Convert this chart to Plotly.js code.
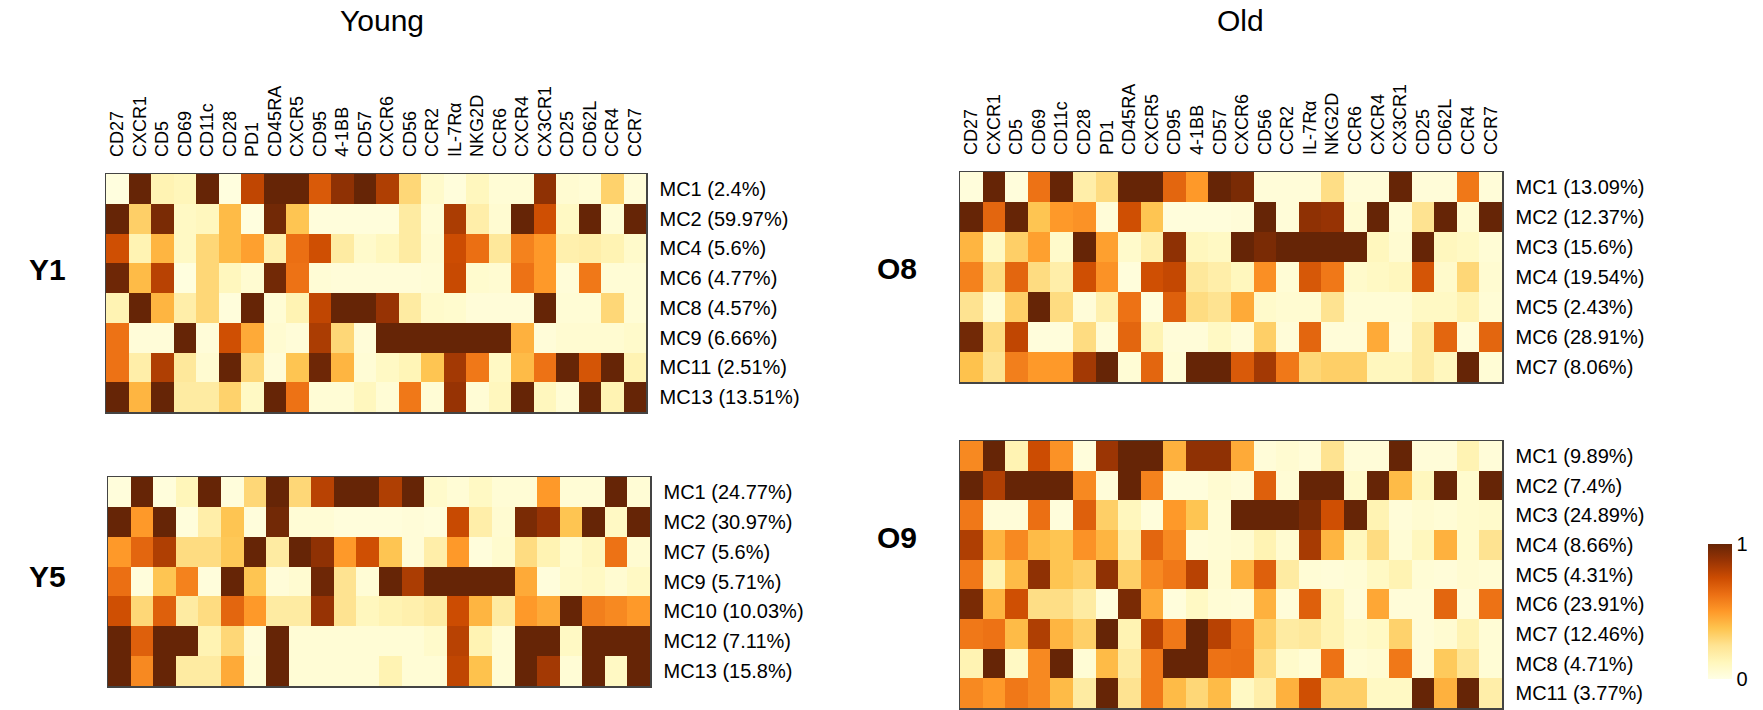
<!DOCTYPE html>
<html>
<head>
<meta charset="utf-8">
<script src="https://cdn.plot.ly/plotly-3.0.1.min.js"></script>
<style>html,body{margin:0;padding:0;background:#fff;}#chart{width:1763px;height:710px;}</style>
</head>
<body>
<div id="chart"></div>
<script>
// Markers (columns), shared by all four heatmaps
const markers = ['CD27','CXCR1','CD5','CD69','CD11c','CD28','PD1','CD45RA','CXCR5','CD95','4-1BB','CD57','CXCR6','CD56','CCR2','IL-7Rα','NKG2D','CCR6','CXCR4','CX3CR1','CD25','CD62L','CCR4','CCR7'];

// Y1
const y1Rows = ['MC1 (2.4%)','MC2 (59.97%)','MC4 (5.6%)','MC6 (4.77%)','MC8 (4.57%)','MC9 (6.66%)','MC11 (2.51%)','MC13 (13.51%)'];
const y1Values = [
  [0.02,1,0.15,0.13,1,0.02,0.78,1,1,0.7,0.9,1,0.82,0.3,0.08,0.03,0.12,0.05,0.05,0.9,0.06,0.05,0.32,0.04],
  [1,0.33,0.95,0.1,0.12,0.4,0.02,0.97,0.37,0.03,0.03,0.03,0.03,0.2,0.05,0.83,0.18,0.06,1,0.74,0.1,1,0.05,1],
  [0.74,0.15,0.42,0.1,0.3,0.4,0.48,0.17,0.63,0.74,0.2,0.08,0.12,0.2,0.06,0.75,0.63,0.22,0.57,0.5,0.17,0.18,0.15,0.08],
  [0.98,0.4,0.8,0.02,0.3,0.12,0.06,0.97,0.62,0.05,0.04,0.04,0.04,0.04,0.05,0.76,0.07,0.06,0.62,0.5,0.04,0.6,0.05,0.05],
  [0.15,1,0.42,0.18,0.3,0.03,1,0.05,0.15,0.78,1,1,0.88,0.2,0.08,0.07,0.04,0.04,0.04,1,0.05,0.05,0.3,0.05],
  [0.62,0.04,0.04,1,0.04,0.74,0.45,0.06,0.04,0.83,0.3,0.04,1,1,1,1,1,1,0.43,0.04,0.06,0.06,0.06,0.08],
  [0.62,0.18,0.82,0.22,0.06,1,0.3,0.04,0.37,0.98,0.42,0.05,0.1,0.14,0.37,0.85,0.6,0.1,0.4,0.62,1,0.72,1,0.15],
  [1,0.42,1,0.2,0.2,0.32,0.1,1,0.62,0.05,0.05,0.12,0.05,0.6,0.05,0.88,0.05,0.12,1,0.12,0.05,1,0.15,1]
];

// Y5
const y5Rows = ['MC1 (24.77%)','MC2 (30.97%)','MC7 (5.6%)','MC9 (5.71%)','MC10 (10.03%)','MC12 (7.11%)','MC13 (15.8%)'];
const y5Values = [
  [0.03,1,0.03,0.13,1,0.03,0.3,1,0.3,0.8,1,1,0.82,1,0.08,0.05,0.1,0.05,0.05,0.5,0.05,0.05,1,0.05],
  [1,0.5,1,0.03,0.18,0.37,0.03,0.97,0.05,0.05,0.03,0.03,0.03,0.04,0.03,0.76,0.18,0.06,0.95,0.88,0.37,1,0.1,1],
  [0.5,0.66,0.82,0.28,0.28,0.36,1,0.2,1,0.9,0.5,0.74,0.37,0.04,0.18,0.5,0.03,0.07,0.28,0.15,0.07,0.12,0.62,0.06],
  [0.63,0.03,0.37,0.57,0.03,1,0.37,0.04,0.06,0.98,0.25,0.05,1,0.83,1,1,1,1,0.45,0.03,0.08,0.1,0.06,0.1],
  [0.74,0.3,0.68,0.2,0.28,0.66,0.5,0.2,0.2,0.88,0.25,0.12,0.15,0.17,0.2,0.75,0.42,0.2,0.5,0.45,1,0.58,0.55,0.5],
  [1,0.68,1,1,0.15,0.3,0.04,1,0.05,0.05,0.05,0.05,0.05,0.05,0.08,0.8,0.15,0.05,1,1,0.1,1,1,1],
  [1,0.55,1,0.2,0.2,0.45,0.05,1,0.05,0.05,0.05,0.05,0.15,0.05,0.05,0.78,0.38,0.05,1,0.85,0.05,1,0.1,1]
];

// O8
const o8Rows = ['MC1 (13.09%)','MC2 (12.37%)','MC3 (15.6%)','MC4 (19.54%)','MC5 (2.43%)','MC6 (28.91%)','MC7 (8.06%)'];
const o8Values = [
  [0.03,1,0.03,0.62,1,0.18,0.28,1,1,0.66,0.5,1,0.95,0.04,0.04,0.04,0.27,0.04,0.04,1,0.04,0.04,0.6,0.04],
  [1,0.66,1,0.37,0.5,0.52,0.04,0.74,0.37,0.03,0.03,0.03,0.04,1,0.04,0.9,0.88,0.06,1,0.05,0.25,1,0.06,1],
  [0.42,0.1,0.33,0.48,0.08,1,0.48,0.08,0.17,0.9,0.12,0.1,1,0.95,1,1,1,1,0.12,0.06,1,0.12,0.1,0.05],
  [0.57,0.28,0.66,0.28,0.18,0.74,0.52,0.03,0.74,0.77,0.22,0.18,0.12,0.53,0.05,0.71,0.6,0.08,0.1,0.12,0.72,0.08,0.3,0.06],
  [0.25,0.05,0.33,1,0.28,0.04,0.17,0.62,0.03,0.68,0.28,0.25,0.45,0.08,0.06,0.06,0.25,0.05,0.05,0.05,0.1,0.1,0.15,0.05],
  [0.97,0.28,0.78,0.03,0.03,0.28,0.04,0.66,0.15,0.04,0.04,0.1,0.04,0.33,0.04,0.66,0.04,0.04,0.45,0.04,0.2,0.66,0.04,0.66],
  [0.38,0.25,0.58,0.5,0.5,0.85,1,0.05,0.66,0.05,1,1,0.7,0.85,0.6,0.3,0.33,0.33,0.12,0.12,0.2,0.12,1,0.05]
];

// O9
const o9Rows = ['MC1 (9.89%)','MC2 (7.4%)','MC3 (24.89%)','MC4 (8.66%)','MC5 (4.31%)','MC6 (23.91%)','MC7 (12.46%)','MC8 (4.71%)','MC11 (3.77%)'];
const o9Values = [
  [0.55,1,0.15,0.75,0.52,0.03,0.87,1,1,0.43,0.9,0.9,0.45,0.04,0.06,0.04,0.25,0.04,0.04,1,0.04,0.04,0.15,0.04],
  [1,0.82,1,1,1,0.55,0.04,1,0.57,0.03,0.03,0.06,0.04,0.68,0.05,1,1,0.08,1,0.4,0.12,1,0.07,1],
  [0.6,0.04,0.04,0.63,0.03,0.68,0.33,0.12,0.03,0.5,0.37,0.05,1,1,1,0.95,0.74,1,0.15,0.04,0.06,0.05,0.07,0.08],
  [0.82,0.42,0.55,0.4,0.37,0.52,0.42,0.18,0.66,0.55,0.04,0.05,0.06,0.15,0.06,0.84,0.42,0.12,0.28,0.05,0.12,0.43,0.07,0.25],
  [0.6,0.15,0.4,0.9,0.37,0.33,0.9,0.33,0.55,0.6,0.8,0.06,0.43,0.68,0.2,0.05,0.04,0.05,0.1,0.15,0.05,0.04,0.06,0.05],
  [0.95,0.42,0.74,0.27,0.27,0.2,0.03,0.95,0.45,0.03,0.1,0.05,0.04,0.43,0.04,0.68,0.15,0.04,0.46,0.04,0.04,0.66,0.04,0.62],
  [0.6,0.62,0.4,0.82,0.42,0.33,1,0.15,0.8,0.6,1,0.8,0.62,0.33,0.2,0.22,0.15,0.08,0.1,0.32,0.04,0.06,0.15,0.05],
  [0.15,1,0.1,0.55,1,0.05,0.4,0.2,0.6,1,1,0.62,0.63,0.28,0.08,0.05,0.62,0.05,0.06,0.6,0.04,0.35,0.24,0.05],
  [0.55,0.5,0.6,0.55,0.4,0.2,1,0.25,0.6,0.4,0.3,0.4,0.1,0.18,0.43,0.74,0.33,0.33,0.1,0.1,1,0.43,1,0.18]
];

const groupTitles = ['Young','Old'];
const sampleNames = ['Y1','Y5','O8','O9'];

const W = 1763, H = 710;
const FONT = 'Liberation Sans, Arial, sans-serif';
const colorscale = [
  [0,'#ffffe5'],[0.125,'#fff7bc'],[0.25,'#fee391'],[0.375,'#fec44f'],
  [0.5,'#fe9929'],[0.625,'#ec7014'],[0.75,'#cc4c02'],[0.875,'#993404'],[1,'#662506']
];

function px2dx(a,b){return [a/W,b/W];}
function px2dy(top,bottom){return [1-bottom/H,1-top/H];}

const panels = [
  {rows:y1Rows, vals:y1Values, xd:px2dx(106,646), yd:px2dy(174,412), top:true},
  {rows:y5Rows, vals:y5Values, xd:px2dx(108,650), yd:px2dy(477,686), top:false},
  {rows:o8Rows, vals:o8Values, xd:px2dx(960,1502), yd:px2dy(172,382), top:true},
  {rows:o9Rows, vals:o9Values, xd:px2dx(960,1502), yd:px2dy(441,708), top:false}
];

const data = [];
const layout = {
  width:W, height:H, margin:{l:0,r:0,t:0,b:0},
  paper_bgcolor:'#fff', plot_bgcolor:'#fff',
  font:{family:FONT, color:'#000'},
  showlegend:false,
  coloraxis:{
    cmin:0, cmax:1, colorscale:colorscale,
    colorbar:{
      x:1708/W, xanchor:'left', xref:'paper',
      y:1-611.5/H, yanchor:'middle',
      thickness:24, thicknessmode:'pixels',
      len:135, lenmode:'pixels',
      tickvals:[0,1], ticktext:['0','1'], ticks:'',
      outlinewidth:0, tickfont:{size:20, family:FONT}, ypad:0, xpad:0
    }
  },
  annotations:[]
};

panels.forEach((p,i)=>{
  const n = i===0 ? '' : String(i+1);
  data.push({
    type:'heatmap', x:markers, y:p.rows, z:p.vals,
    coloraxis:'coloraxis', xaxis:'x'+n, yaxis:'y'+n,
    xgap:0, ygap:0, hoverinfo:'skip'
  });
  layout['xaxis'+n] = {
    domain:p.xd, anchor:'y'+n, side:'top',
    showticklabels:p.top, tickangle:-90, ticks:'',
    tickfont:{size:18, family:FONT}, ticklabelstandoff:12,
    showline:true, mirror:true, linecolor:'#444', linewidth:1.5,
    showgrid:false, zeroline:false, fixedrange:true
  };
  layout['yaxis'+n] = {
    domain:p.yd, anchor:'x'+n, side:'right', autorange:'reversed',
    ticks:'', tickfont:{size:20, family:FONT}, ticklabelstandoff:8,
    showline:true, mirror:true, linecolor:'#444', linewidth:1.5,
    showgrid:false, zeroline:false, fixedrange:true
  };
});

// group titles
layout.annotations.push(
  {text:groupTitles[0], x:382/W, y:1-21/H, xref:'paper', yref:'paper', showarrow:false, xanchor:'center', yanchor:'middle', font:{size:30, family:FONT}},
  {text:groupTitles[1], x:1240/W, y:1-21/H, xref:'paper', yref:'paper', showarrow:false, xanchor:'center', yanchor:'middle', font:{size:30, family:FONT}}
);
// sample names
const namePos = [[47,270],[47,576],[897,269],[897,537]];
sampleNames.forEach((s,i)=>{
  layout.annotations.push({text:'<b>'+s+'</b>', x:namePos[i][0]/W, y:1-namePos[i][1]/H, xref:'paper', yref:'paper', showarrow:false, xanchor:'center', yanchor:'middle', font:{size:30, family:FONT}});
});

Plotly.newPlot('chart', data, layout, {staticPlot:true, displayModeBar:false});
</script>
</body>
</html>
